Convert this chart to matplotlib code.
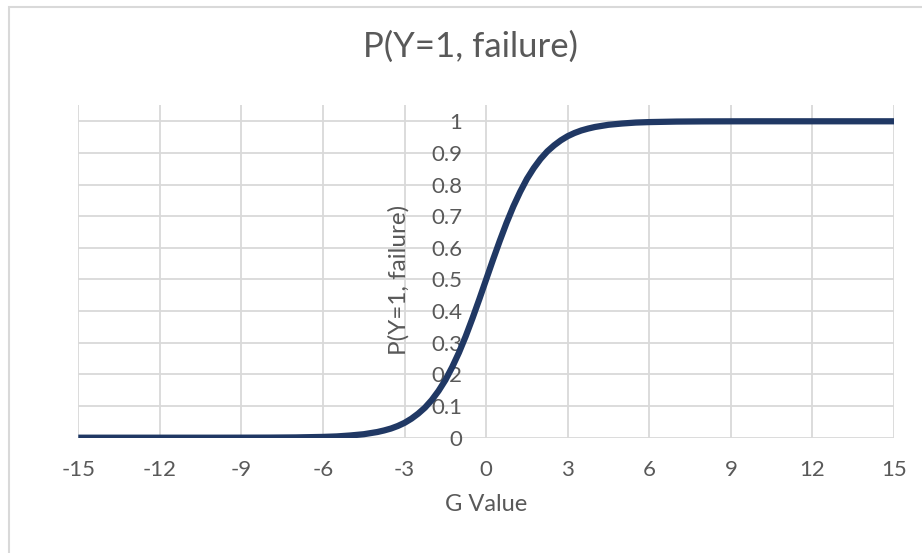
import matplotlib.pyplot as plt
from matplotlib.patches import Rectangle

# G values and the fitted probability
g_vals = [-15, -14, -13, -12, -11, -10, -9, -8, -7, -6, -5.5, -5, -4.5, -4, -3.75, -3.5,
          -3.25, -3, -2.75, -2.5, -2.25, -2, -1.75, -1.5, -1.25, -1, -0.75, -0.5, -0.25,
          0, 0.25, 0.5, 0.75, 1, 1.25, 1.5, 1.75, 2, 2.25, 2.5, 2.75, 3, 3.25, 3.5,
          3.75, 4, 4.5, 5, 5.5, 6, 7, 8, 9, 10, 11, 12, 13, 14, 15]
p_vals = [0.0, 0.0, 0.0, 0.0, 0.0, 0.0, 0.0001, 0.0003, 0.0009, 0.0025, 0.004, 0.007,
          0.011, 0.018, 0.023, 0.029, 0.037, 0.047, 0.060, 0.076, 0.095, 0.119, 0.148,
          0.182, 0.223, 0.269, 0.321, 0.378, 0.438, 0.5, 0.562, 0.622, 0.679, 0.731,
          0.777, 0.818, 0.852, 0.881, 0.905, 0.924, 0.940, 0.953, 0.963, 0.971, 0.977,
          0.982, 0.989, 0.993, 0.996, 0.9975, 0.9991, 0.9997, 0.9999, 1.0, 1.0, 1.0,
          1.0, 1.0, 1.0]

x_ticks = [-15, -12, -9, -6, -3, 0, 3, 6, 9, 12, 15]
y_ticks = [0, 0.1, 0.2, 0.3, 0.4, 0.5, 0.6, 0.7, 0.8, 0.9, 1]
y_tick_labels = ['0', '0.1', '0.2', '0.3', '0.4', '0.5', '0.6', '0.7', '0.8', '0.9', '1']

plt.rcParams['font.family'] = ['Lato', 'DejaVu Sans']
plt.rcParams['axes.unicode_minus'] = False
text_col = '#595959'
grid_col = '#d9d9d9'

fig = plt.figure(figsize=(9.22, 5.53), dpi=100)
fig.patches.append(Rectangle((9 / 922, -0.05), 1.0, 1.05 - 7 / 553, transform=fig.transFigure,
                             fill=False, edgecolor=grid_col, linewidth=1.5))

ax = fig.add_axes([78.3 / 922, 1 - 437.7 / 553, (894 - 78.3) / 922, (437.7 - 105) / 553])
ax.set_xlim(-15, 15)
ax.set_ylim(0, 1.0515)

# gridlines
for x in x_ticks:
    ax.axvline(x, color=grid_col, lw=1.3, zorder=1)
for y in y_ticks:
    ax.axhline(y, color=grid_col, lw=1.3, zorder=1)

ax.plot(g_vals, p_vals, color='#203864', lw=4.5, solid_capstyle='butt',
        solid_joinstyle='round', zorder=3)

for s in ax.spines.values():
    s.set_visible(False)
ax.spines['left'].set_position(('data', 0))

ax.set_xticks(x_ticks)
ax.set_yticks(y_ticks)
ax.set_yticklabels(y_tick_labels)
ax.tick_params(axis='x', length=0, pad=16, labelsize=16, labelcolor=text_col)
ax.tick_params(axis='y', length=0, pad=17, labelsize=16, labelcolor=text_col)
for lbl in ax.get_yticklabels():
    lbl.set_zorder(2)

ax.set_xlabel('G Value', fontsize=17, color=text_col, labelpad=10)
fig.text(399 / 922, 1 - 280 / 553, 'P(Y=1, failure)', rotation=90, fontsize=17.5,
         color=text_col, ha='center', va='center')
fig.text(470 / 922, 1 - 47 / 553, 'P(Y=1, failure)', fontsize=25, color=text_col,
         ha='center', va='center')

fig.savefig('out.png', dpi=100)
